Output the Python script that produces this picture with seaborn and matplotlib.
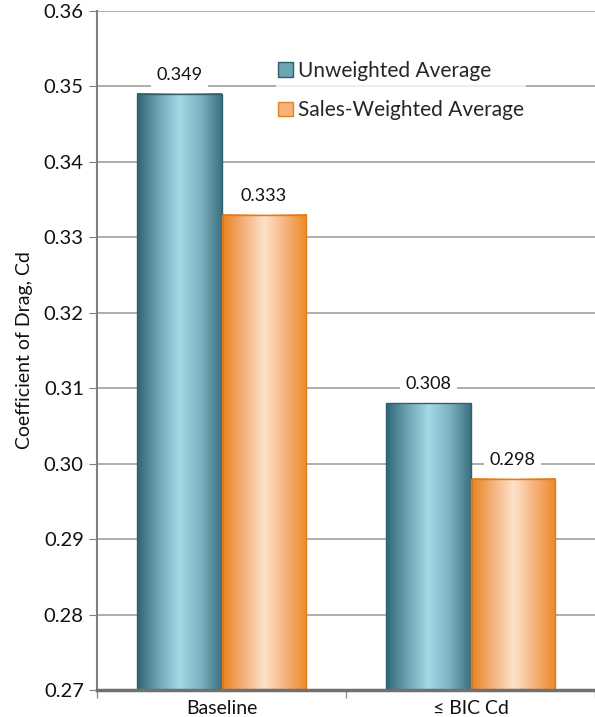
import numpy as np
import pandas as pd
import matplotlib
matplotlib.use("Agg")
import matplotlib.pyplot as plt
import seaborn as sns
from matplotlib.colors import LinearSegmentedColormap
from matplotlib.patches import Patch

categories = ["Baseline", "\u2264 BIC Cd"]
series = ["Unweighted Average", "Sales-Weighted Average"]
unweighted = [0.349, 0.308]
sales_weighted = [0.333, 0.298]
yticks = [0.27, 0.28, 0.29, 0.30, 0.31, 0.32, 0.33, 0.34, 0.35, 0.36]
ytick_labels = ["0.27", "0.28", "0.29", "0.30", "0.31", "0.32", "0.33", "0.34", "0.35", "0.36"]

df = pd.DataFrame({
    "Category": categories * 2,
    "Series": [series[0]] * 2 + [series[1]] * 2,
    "Cd": unweighted + sales_weighted,
})

sns.set_style("white")
plt.rcParams["font.family"] = ["Lato", "DejaVu Sans"]

fig = plt.figure(figsize=(5.95, 7.17), dpi=100)
ax = fig.add_axes([97 / 595, 1 - 690 / 717, 1 - 97 / 595, 679 / 717])

palette = {series[0]: "#4a8799", series[1]: "#ef8a24"}
sns.barplot(data=df, x="Category", y="Cd", hue="Series", palette=palette,
            width=0.675, ax=ax, legend=False, saturation=1)

ax.set_ylim(yticks[0], yticks[-1])
ax.set_xlim(-0.5, 1.5)
ybottom = ax.get_ylim()[0]

cmaps = {
    series[0]: LinearSegmentedColormap.from_list(
        "teal", ["#2f6677", "#6ea3b3", "#a6d9e6", "#7fb2c1", "#3a7080"]),
    series[1]: LinearSegmentedColormap.from_list(
        "orng", ["#e8821c", "#f4b07a", "#fde2cb", "#f5b27a", "#ec8a26"]),
}
edges = {series[0]: "#2f5f70", series[1]: "#e07d18"}

grad = np.linspace(0, 1, 256).reshape(1, -1)
bars = [p for p in ax.patches if p.get_height() > 0]
for i, p in enumerate(bars):
    s = series[0] if i < 2 else series[1]
    x0, w = p.get_x(), p.get_width()
    h = p.get_height()
    ax.imshow(grad, extent=[x0, x0 + w, ybottom, h], aspect="auto",
              cmap=cmaps[s], zorder=2, origin="lower")
    p.set_facecolor("none")
    p.set_edgecolor(edges[s])
    p.set_linewidth(1.0)
    p.set_zorder(3)
    p.set_clip_on(True)
    ax.annotate(f"{h:.3f}", (x0 + w / 2, h), xytext=(0, 8), textcoords="offset points",
                ha="center", va="bottom", fontsize=13, color="#111111",
                bbox=dict(boxstyle="square,pad=0.3", fc="white", ec="none"), zorder=4)

ax.set_ylim(yticks[0], yticks[-1])
ax.set_xlim(-0.5, 1.5)
ax.set_yticks(yticks)
ax.set_yticklabels(ytick_labels)
ax.set_xticks([-0.5, 0.5, 1.5], minor=True)
ax.yaxis.grid(True, color="#a0a0a0", linewidth=1.2, zorder=0)
ax.set_axisbelow(True)

ax.set_xlabel("")
ax.set_ylabel("Coefficient of Drag, Cd", fontsize=14, color="#111111", labelpad=8)
ax.tick_params(axis="y", labelsize=14.5, colors="#111111", left=True, length=6, color="#808080")
ax.tick_params(axis="x", which="major", labelsize=14, colors="#111111", length=0, pad=7)
ax.tick_params(axis="x", which="minor", bottom=True, length=6, width=1, color="#909090")

for side in ["top", "right"]:
    ax.spines[side].set_visible(False)
ax.spines["left"].set_color("#808080")
ax.spines["left"].set_linewidth(1.5)
ax.spines["bottom"].set_color("#707070")
ax.spines["bottom"].set_linewidth(2.5)
ax.spines["bottom"].set_zorder(5)

handles = [Patch(facecolor="#6ea3b3", edgecolor="#2f5f70", label=series[0]),
           Patch(facecolor="#f6b27c", edgecolor="#e8821c", label=series[1])]
leg = ax.legend(handles=handles, loc="upper left", bbox_to_anchor=(0.36, 0.93),
                frameon=True, fontsize=15, handlelength=0.7, handleheight=0.7,
                handletextpad=0.25, labelspacing=0.95, borderaxespad=0,
                borderpad=0.1)
leg.get_frame().set_facecolor("white")
leg.get_frame().set_edgecolor("none")

fig.savefig("out.png", dpi=100)
